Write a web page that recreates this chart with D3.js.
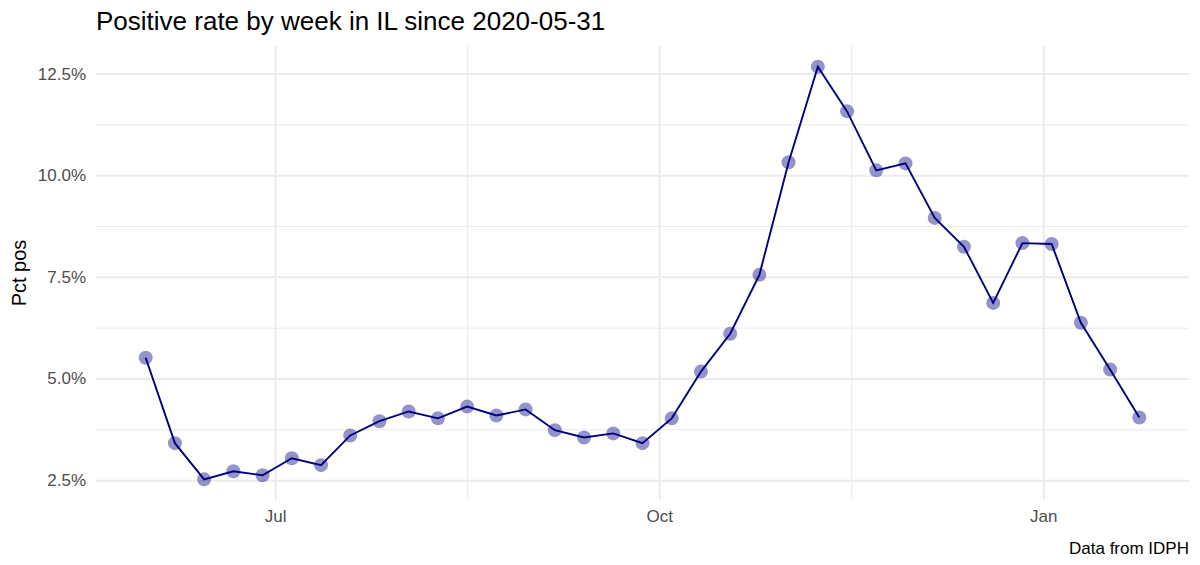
<!DOCTYPE html>
<html>
<head>
    <title>Positive rate by week in IL</title>
    <script src="https://d3js.org/d3.v7.min.js"></script>
    <style>
        body { margin: 0; background: #fff; }
        svg { font-family: "Liberation Sans", Arial, sans-serif; }
        .grid-major line { stroke: #ebebeb; stroke-width: 2; }
        .grid-minor line { stroke: #ebebeb; stroke-width: 1; }
        .grid-major path, .grid-minor path { display: none; }
    </style>
</head>
<body>
<div id="chart-container"></div>

<script>
    const weeks = [
        '2020-05-31', '2020-06-07', '2020-06-14', '2020-06-21', '2020-06-28',
        '2020-07-05', '2020-07-12', '2020-07-19', '2020-07-26', '2020-08-02',
        '2020-08-09', '2020-08-16', '2020-08-23', '2020-08-30', '2020-09-06',
        '2020-09-13', '2020-09-20', '2020-09-27', '2020-10-04', '2020-10-11',
        '2020-10-18', '2020-10-25', '2020-11-01', '2020-11-08', '2020-11-15',
        '2020-11-22', '2020-11-29', '2020-12-06', '2020-12-13', '2020-12-20',
        '2020-12-27', '2021-01-03', '2021-01-10', '2021-01-17', '2021-01-24'
    ];
    const pctPos = [
        5.51, 3.41, 2.52, 2.72, 2.62, 3.04, 2.87, 3.60, 3.95, 4.19,
        4.02, 4.31, 4.09, 4.24, 3.73, 3.55, 3.65, 3.41, 4.02, 5.17,
        6.10, 7.55, 10.32, 12.67, 11.57, 10.12, 10.29, 8.95, 8.24, 6.86,
        8.33, 8.31, 6.37, 5.22, 4.04
    ];
    const yTicks = [2.5, 5.0, 7.5, 10.0, 12.5];
    const yMinor = [3.75, 6.25, 8.75, 11.25];
    const xTicks = ['2020-07-01', '2020-10-01', '2021-01-01'];
    const xTickLabels = ['Jul', 'Oct', 'Jan'];
    const xMinor = ['2020-08-16', '2020-11-16'];

    const parse = d3.timeParse('%Y-%m-%d');
    const data = weeks.map((w, i) => ({ date: parse(w), value: pctPos[i] }));

    const width = 1200;
    const height = 565;
    const margin = { top: 46, right: 11, bottom: 65, left: 96 };
    const chartWidth = width - margin.left - margin.right;
    const chartHeight = height - margin.top - margin.bottom;

    const svg = d3.select('#chart-container')
        .append('svg')
        .attr('width', width)
        .attr('height', height);

    const chart = svg.append('g')
        .attr('transform', `translate(${margin.left},${margin.top})`);

    // ggplot-style 5% expansion on both axes
    const [x0, x1] = d3.extent(data, d => d.date);
    const xPad = (x1 - x0) * 0.05;
    const xScale = d3.scaleTime()
        .domain([new Date(+x0 - xPad), new Date(+x1 + xPad)])
        .range([0, chartWidth]);

    const [y0, y1] = d3.extent(data, d => d.value);
    const yPad = (y1 - y0) * 0.05;
    const yScale = d3.scaleLinear()
        .domain([y0 - yPad, y1 + yPad])
        .range([chartHeight, 0]);

    // grid
    chart.append('g')
        .attr('class', 'grid-minor')
        .call(d3.axisLeft(yScale).tickValues(yMinor).tickSize(-chartWidth).tickFormat(''));
    chart.append('g')
        .attr('class', 'grid-minor')
        .call(d3.axisBottom(xScale).tickValues(xMinor.map(parse)).tickSize(chartHeight).tickFormat(''));
    chart.append('g')
        .attr('class', 'grid-major')
        .call(d3.axisLeft(yScale).tickValues(yTicks).tickSize(-chartWidth).tickFormat(''));
    chart.append('g')
        .attr('class', 'grid-major')
        .call(d3.axisBottom(xScale).tickValues(xTicks.map(parse)).tickSize(chartHeight).tickFormat(''));

    // tick labels
    const yAxis = chart.append('g')
        .call(d3.axisLeft(yScale).tickValues(yTicks).tickSize(0).tickPadding(10)
            .tickFormat(d => d.toFixed(1) + '%'));
    yAxis.select('.domain').remove();
    yAxis.selectAll('text')
        .attr('fill', '#4d4d4d')
        .style('font-size', '17px')
        .style('font-family', '"Liberation Sans", Arial, sans-serif');

    const xAxis = chart.append('g')
        .attr('transform', `translate(0,${chartHeight})`)
        .call(d3.axisBottom(xScale).tickValues(xTicks.map(parse)).tickSize(0).tickPadding(10)
            .tickFormat((d, i) => xTickLabels[i]));
    xAxis.select('.domain').remove();
    xAxis.selectAll('text')
        .attr('fill', '#4d4d4d')
        .style('font-size', '17px')
        .style('font-family', '"Liberation Sans", Arial, sans-serif');

    // points
    chart.selectAll('.pt')
        .data(data)
        .enter()
        .append('circle')
        .attr('class', 'pt')
        .attr('cx', d => xScale(d.date))
        .attr('cy', d => yScale(d.value))
        .attr('r', 7)
        .attr('fill', 'navy')
        .attr('fill-opacity', 0.42);

    // line
    const line = d3.line()
        .x(d => xScale(d.date))
        .y(d => yScale(d.value));
    chart.append('path')
        .datum(data)
        .attr('d', line)
        .attr('fill', 'none')
        .attr('stroke', '#000080')
        .attr('stroke-width', 1.9);

    // texts
    svg.append('text')
        .attr('x', 96)
        .attr('y', 30)
        .attr('font-size', 26)
        .attr('fill', '#000')
        .text('Positive rate by week in IL since 2020-05-31');

    svg.append('text')
        .attr('transform', `translate(26,${margin.top + chartHeight / 2}) rotate(-90)`)
        .attr('text-anchor', 'middle')
        .attr('font-size', 20)
        .attr('fill', '#000')
        .text('Pct pos');

    svg.append('text')
        .attr('x', width - margin.right)
        .attr('y', 554)
        .attr('text-anchor', 'end')
        .attr('font-size', 17)
        .attr('fill', '#000')
        .text('Data from IDPH');
</script>
</body>
</html>
